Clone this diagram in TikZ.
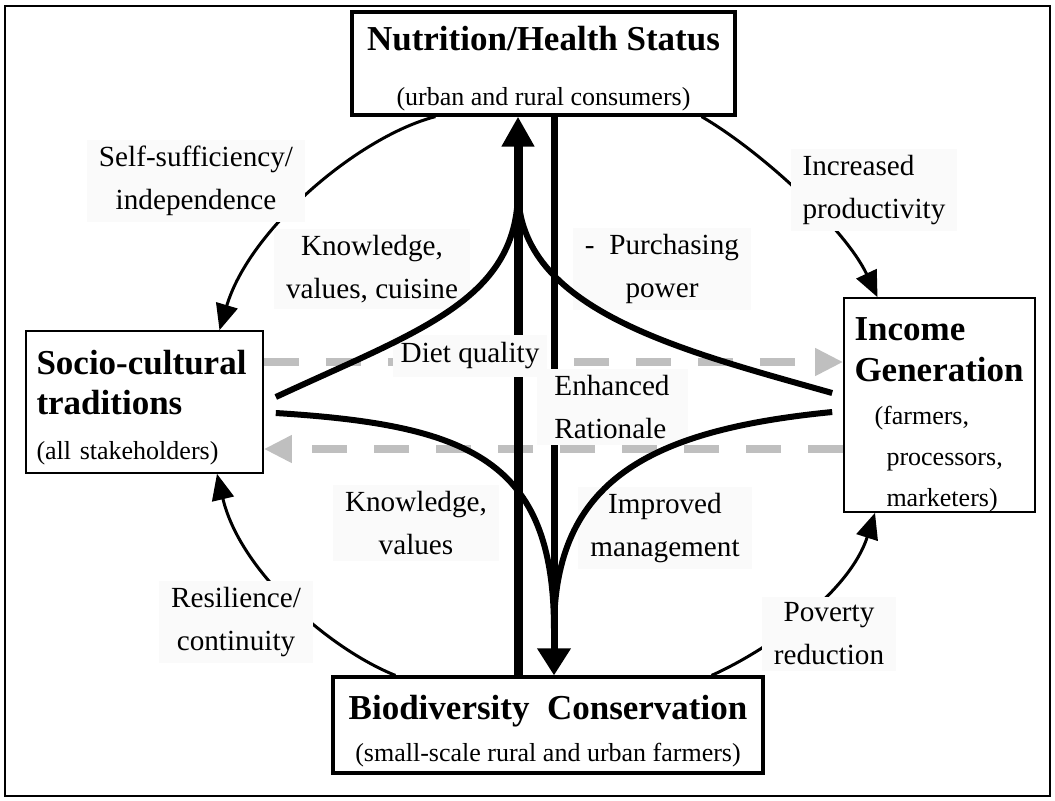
\documentclass[tikz,border=0pt]{standalone}
\usepackage{fontspec}
\setmainfont{Liberation Serif}
\usetikzlibrary{arrows.meta,calc}
\newcommand{\headfont}{\bfseries\fontsize{17.5}{21}\selectfont}

\begin{document}
\begin{tikzpicture}[x=0.5pt,y=-0.5pt,
    box/.style={draw,fill=white,inner sep=0pt},
    lbl/.style={fill=black!2,inner xsep=6pt,inner ysep=3pt,align=center,font=\fontsize{14.6}{21.5}\selectfont},
    ring/.style={line width=1.5pt,-{Triangle[length=13pt,width=11pt]}},
    stem/.style={line width=3pt},
    hint/.style={black!25,line width=4pt,dash pattern=on 17.5pt off 13.5pt,-{Triangle[length=14pt,width=13pt]}}]
    \useasboundingbox (0,0) rectangle (1055,800);
    % Frame
    \draw[line width=1pt] (5,6) rectangle (1050,796);
    % Boxes
    \node[box,line width=1.6pt,minimum width=191.5pt,minimum height=51.5pt,align=center,font=\fontsize{13}{27.5}\selectfont] (nut) at (543.5,63.5) {\rule{0pt}{17.5pt}{\headfont Nutrition/Health Status}\\(urban and rural consumers)};
    \node[box,line width=1.6pt,minimum width=215pt,minimum height=48pt,align=center,font=\fontsize{13}{21}\selectfont] (bio) at (548,725) {\rule{0pt}{18.5pt}{\headfont Biodiversity\ \ Conservation}\\(small-scale rural and urban farmers)};
    \node[box,line width=0.8pt,minimum height=71pt,text width=108pt,inner xsep=5.25pt,align=left,font=\fontsize{13}{20}\selectfont] (socio) at (144.5,402) {\rule{0pt}{18pt}{\headfont Socio-cultural}\\{\headfont traditions}\\[2.5pt](all stakeholders)};
    \node[box,line width=0.8pt,minimum height=107pt,text width=85pt,inner xsep=5.25pt,align=left,font=\fontsize{13}{20.5}\selectfont] (income) at (939.5,405) {\rule{0pt}{21pt}{\headfont Income}\\{\headfont Generation}\\[1pt]\hspace*{10pt}(farmers,\\\hspace*{16pt}processors,\\\hspace*{16pt}marketers)};
    % Outer ring
    \draw[ring] ($(nut.south west)+(85,0)$) .. controls +(-77,20) and +(30,-101) .. ($(socio.north)+(75,0)$);
    \draw[ring] ($(nut.south east)+(-35,0)$) .. controls +(60,35) and +(-32,-68) .. ($(income.north)+(-62,0)$);
    \draw[ring] ($(bio.north west)+(64,0)$) .. controls +(-67,-27) and +(23,97) .. ($(socio.south)+(72.5,0)$);
    \draw[ring] ($(bio.north east)+(-53,0)$) .. controls +(60,-27) and +(-25,78) .. ($(income.south)+(-64.5,0)$);
    % Gray dashed exchange
    \coordinate (dtop) at (0,362);
    \coordinate (dbot) at (0,449);
    \draw[hint] (socio.east |- dtop) -- (income.west |- dtop);
    \draw[hint] (income.west |- dbot) -- (socio.east |- dbot);
    % Vertical arrows
    \coordinate (upx) at (518,400);
    \coordinate (dnx) at (554,400);
    \draw[line width=4.5pt,-{Triangle[length=15pt,width=15.5pt]}] (bio.north -| upx) -- (nut.south -| upx);
    \draw[line width=3.5pt,-{Triangle[length=13.5pt,width=16pt]}] (nut.south -| dnx) -- (bio.north -| dnx);
    % Labels
    \node[lbl] (selfs) at (196,181) {Self-sufficiency/\\independence};
    \node[lbl,align=left] (incr) at (874,190) {Increased\\productivity};
    \node[lbl] (know1) at (372,269) {Knowledge,\\values, cuisine};
    \node[lbl] (purch) at (662,269) {-\ \ Purchasing\\power};
    \node[lbl,inner sep=4pt] (diet) at (470,356) {Diet quality};
    \node[lbl,align=left,minimum width=75.5pt] (enh) at (612,407) {Enhanced\\Rationale};
    \node[lbl] (know2) at (416,523) {Knowledge,\\values};
    \node[lbl] (impr) at (665,528) {Improved\\management};
    \node[lbl] (resil) at (236,622) {Resilience/\\continuity};
    \node[lbl] (pov) at (829,634) {Poverty\\reduction};
    % Merging flows
    \coordinate (upj) at (518,190);
    \coordinate (dnj) at (554,630);
    \draw[stem] ($(socio.east)+(12,-5)$) .. controls (420,330) and (518,300) .. (upj);
    \draw[stem] ($(income.west)+(-11,-12)$) .. controls (680,350) and (518,310) .. (upj);
    \draw[stem] ($(socio.east)+(12,11)$) .. controls (470,425) and (554,460) .. (dnj);
    \draw[stem] ($(income.west)+(-11,7)$) .. controls (650,430) and (554,480) .. (dnj);
\end{tikzpicture}
\end{document}
